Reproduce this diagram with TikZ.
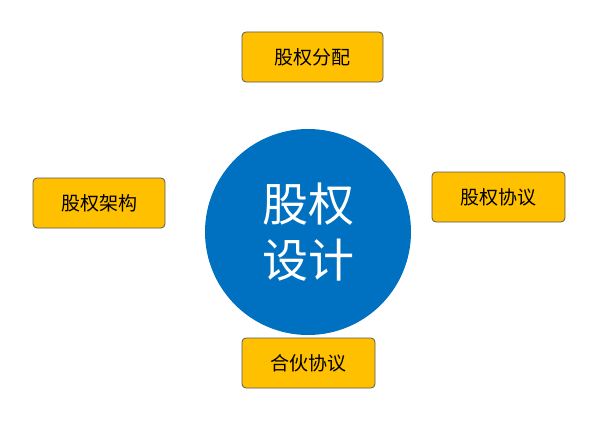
\documentclass[tikz,border=0pt]{standalone}
\usepackage{fontspec}
\newfontfamily\cjk{Noto Sans CJK SC}
\begin{document}
\begin{tikzpicture}[x=1pt,y=-1pt,
  box/.style={draw=gray!70!black,line width=0.8pt,fill=orange!20!yellow!100!red,fill={rgb,255:red,255;green,192;blue,0},rounded corners=4pt,font=\cjk\fontsize{19}{22}\selectfont,inner sep=0pt}]
\useasboundingbox (0,0) rectangle (605,428);
\node[circle,fill={rgb,255:red,0;green,112;blue,192},minimum size=206pt,inner sep=0pt,text=white,font=\cjk\fontsize{46}{56}\selectfont,align=center] (c) at (308,232) {股权\\设计};
\node[box,minimum width=141pt,minimum height=50pt] (t) at (312.5,57) {股权分配};
\node[box,minimum width=132pt,minimum height=50pt] (l) at (99,203) {股权架构};
\node[box,minimum width=133pt,minimum height=50pt] (r) at (498.5,197) {股权协议};
\node[box,minimum width=133pt,minimum height=50pt] (b) at (308.5,363) {合伙协议};
\end{tikzpicture}
\end{document}
